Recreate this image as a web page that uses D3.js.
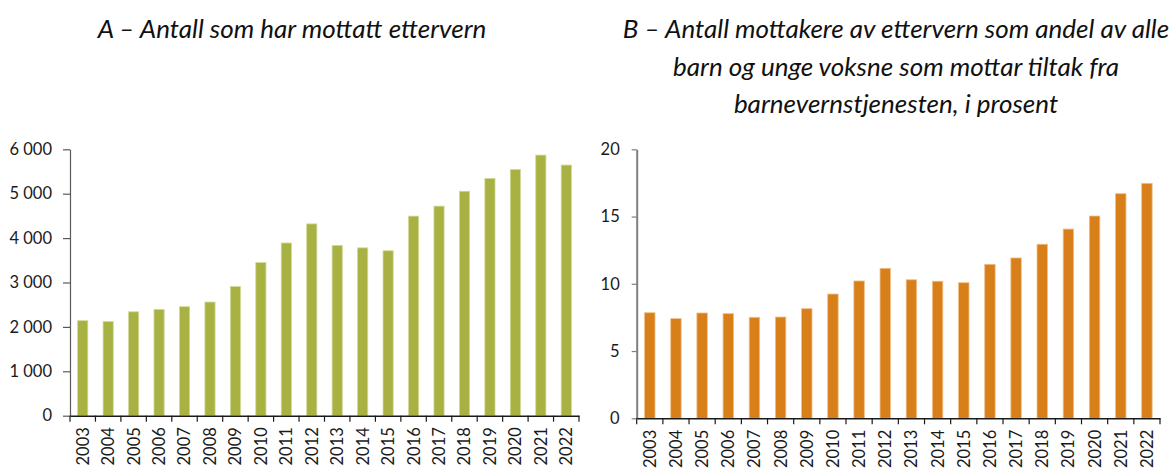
<!DOCTYPE html>
<html><head><meta charset="utf-8">
<script src="https://cdn.jsdelivr.net/npm/d3@7"></script>
<style>body{margin:0;background:#fff}svg{display:block}</style>
</head><body>
<svg id="c" width="1176" height="468"></svg>
<script>
const years = ["2003","2004","2005","2006","2007","2008","2009","2010","2011","2012","2013","2014","2015","2016","2017","2018","2019","2020","2021","2022"];
const countValues = [2140,2120,2340,2395,2455,2560,2910,3450,3890,4320,3835,3780,3715,4495,4720,5055,5345,5545,5870,5645];
const shareValues = [7.85,7.41,7.83,7.78,7.51,7.53,8.15,9.24,10.21,11.15,10.30,10.19,10.08,11.45,11.92,12.94,14.07,15.04,16.70,17.47];
const countTicks = [0,1000,2000,3000,4000,5000,6000];
const shareTicks = [0,5,10,15,20];
const titleA = ["A – Antall som har mottatt ettervern"];
const titleB = ["B – Antall mottakere av ettervern som andel av alle","barn og unge voksne som mottar tiltak fra","barnevernstjenesten, i prosent"];

const svg = d3.select("#c");
const font = "Lato, 'Open Sans', sans-serif";
const nb = d3.formatLocale({decimal:",",thousands:"\u00a0",grouping:[3],currency:["",""]});

function panel(o){
  const g = svg.append("g");
  const x = d3.scaleBand().domain(years).range([o.x0,o.x1]).paddingInner(0.6).paddingOuter(0.3);
  const y = d3.scaleLinear().domain([0,o.max]).range([o.yb,o.yt]);
  // bars
  g.selectAll("rect.bar").data(o.values).enter().append("rect")
    .attr("x",(d,i)=>x(years[i])).attr("width",x.bandwidth())
    .attr("y",d=>y(d)).attr("height",d=>y(0)-y(d))
    .attr("fill",o.color).attr("stroke",o.edge).attr("stroke-width",0.8);
  // y axis
  const ya = g.append("g").attr("transform",`translate(${o.x0},0)`)
    .call(d3.axisLeft(y).tickValues(o.ticks).tickSize(o.tick).tickPadding(o.pad).tickSizeOuter(0).tickFormat(o.fmt));
  ya.select(".domain").attr("stroke",o.ycol).attr("stroke-width",o.yw);
  ya.selectAll(".tick line").attr("stroke",o.ycol).attr("stroke-width",1.2);
  ya.selectAll("text").attr("font-family",font).attr("font-size",16.5).attr("fill","#1a1a1a");
  // x axis: labels
  const xa = g.append("g").attr("transform",`translate(0,${o.yb})`)
    .call(d3.axisBottom(x).tickSize(0).tickSizeOuter(0));
  xa.select(".domain").attr("stroke","#1a1a1a").attr("stroke-width",1.5);
  xa.selectAll(".tick text").attr("font-family",font).attr("font-size",16.5).attr("fill","#1a1a1a")
    .attr("transform","rotate(-90)").attr("text-anchor","end").attr("x",-11.5).attr("y",0).attr("dy","0.36em");
  // boundary ticks
  const step = x.step();
  g.selectAll("line.bt").data(d3.range(years.length+1)).enter().append("line")
    .attr("x1",i=>o.x0+i*step).attr("x2",i=>o.x0+i*step)
    .attr("y1",o.yb).attr("y2",o.yb+6).attr("stroke","#1a1a1a").attr("stroke-width",1.2);
  // title
  const t = g.append("text").attr("font-family",font).attr("font-style","italic").attr("font-size",26).attr("fill","#111").attr("text-anchor","middle");
  o.title.forEach((line,i)=>t.append("tspan").attr("x",o.tx).attr("y",38+i*37.5).text(line));
}

panel({x0:70,x1:579,yb:415.7,yt:149.3,max:6000,values:countValues,ticks:countTicks,color:"#a8b243",edge:"#d3d99a",
  fmt:d=>nb.format(",")(d).replace(/\u00a0/g," "),tick:7,pad:11,ycol:"#595959",yw:1.2,title:titleA,tx:292});
panel({x0:636.7,x1:1160,yb:418.3,yt:149.3,max:20,values:shareValues,ticks:shareTicks,color:"#d87f1a",edge:"#efc08a",
  fmt:d3.format("d"),tick:5,pad:12,ycol:"#7f7f7f",yw:2,title:titleB,tx:896});
</script>
</body></html>
